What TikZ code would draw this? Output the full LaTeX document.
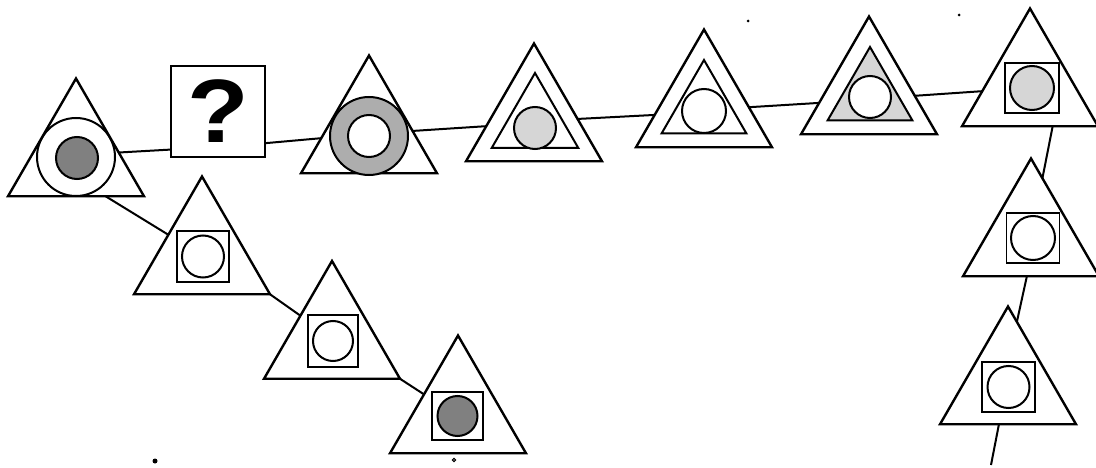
\documentclass[tikz,border=0pt]{standalone}
\usepackage{fontspec}
\setmainfont{Liberation Sans}
\usetikzlibrary{shapes.geometric}
\begin{document}
\begin{tikzpicture}[x=1pt,y=-1pt,
  tri/.style={draw, regular polygon, regular polygon sides=3, minimum size=157pt,
    inner sep=0pt, outer sep=0pt, line width=2.4pt, fill=white},
  intri/.style={draw, regular polygon, regular polygon sides=3, minimum size=#1,
    inner sep=0pt, outer sep=0pt, line width=2pt},
  sq/.style={draw, rectangle, inner sep=0pt, outer sep=0pt, line width=1.6pt, fill=white},
  circ/.style={draw, circle, minimum size=#1, inner sep=0pt, outer sep=0pt, line width=2pt},
  conn/.style={line width=2pt},
  dark/.style={fill=black!50},
  mid/.style={fill=black!32},
  light/.style={fill=black!16},
  qbox/.style={draw, rectangle, minimum width=94pt, minimum height=91pt,
    inner sep=0pt, outer sep=0pt, line width=2pt, fill=white}]
\useasboundingbox (0,0) rectangle (1096,468);

% top row
\node[tri] (t1) at (76,157) {};
\node[circ=78pt] (t1o) at (76,157) {};
\node[circ=42pt, dark] (t1i) at (77,158) {};

\node[qbox] (box) at (218,111.5) {\raisebox{-3pt}{\fontsize{90}{90}\selectfont\bfseries\scalebox{1.12}[1]{?}}};

\node[tri] (t3) at (369,134) {};
\node[circ=78pt, mid] (t3o) at (369,136) {};
\node[circ=42pt, fill=white] (t3i) at (369,136) {};

\node[tri] (t4) at (534,122) {};
\node[intri=100pt] (t4t) at (535,123) {};
\node[circ=42pt, light] (t4c) at (535,128) {};

\node[tri] (t5) at (704,108) {};
\node[intri=98pt] (t5t) at (704,109) {};
\node[circ=44pt] (t5c) at (704,111) {};

\node[tri] (t6) at (869,95) {};
\node[intri=98pt, light] (t6t) at (870,96) {};
\node[circ=42pt, fill=white] (t6c) at (870,97) {};

\node[tri] (t7) at (1030,87) {};
\node[sq, minimum width=54pt, minimum height=50pt] (t7s) at (1032,88) {};
\node[circ=44pt, light] (t7c) at (1032,88) {};

% right column
\node[tri] (t8) at (1031,237) {};
\node[sq, minimum width=53pt, minimum height=50pt] (t8s) at (1033,238) {};
\node[circ=44pt] (t8c) at (1033,238) {};

\node[tri] (t9) at (1008,385) {};
\node[sq, minimum width=53pt, minimum height=50pt] (t9s) at (1008.5,387) {};
\node[circ=42pt] (t9c) at (1008.5,387) {};

% lower diagonal
\node[tri] (t2) at (202,255) {};
\node[sq, minimum width=52pt, minimum height=51pt] (t2s) at (203,256.5) {};
\node[circ=42pt] (t2c) at (203,256.5) {};

\node[tri] (t3b) at (332,339.5) {};
\node[sq, minimum width=50pt, minimum height=52pt] (t3bs) at (333,341) {};
\node[circ=40pt] (t3bc) at (333,341) {};

\node[tri] (t4b) at (458,414) {};
\node[sq, minimum width=51pt, minimum height=48pt] (t4bs) at (457.5,416) {};
\node[circ=40pt, dark] (t4bc) at (457.5,416) {};

\coordinate (tail) at (991,465);

% connectors
\draw[conn] (t1.6) -- (box.219);
\draw[conn] (box.326) -- (t3.185);
\draw[conn] (t3.4) -- (t4.185);
\draw[conn] (t4.4) -- (t5.188);
\draw[conn] (t5.1) -- (t6.189);
\draw[conn] (t6.359) -- (t7.185);
\draw[conn] (t7.300) -- (t8.79);
\draw[conn] (t8.264) -- (t9.82);
\draw[conn] (t9.257) -- (tail);
\draw[conn] (t1.307) -- (t2.149);
\draw[conn] (t2.corner 3) -- (t3b.143);
\draw[conn] (t3b.corner 3) -- (t4b.150);

% specks
\fill (155,461) circle (2.5);
\fill (748,21) circle (1.5);
\fill (959,15) circle (1.5);
\draw[line width=1pt] (454,460) circle (1.6);
\end{tikzpicture}
\end{document}
